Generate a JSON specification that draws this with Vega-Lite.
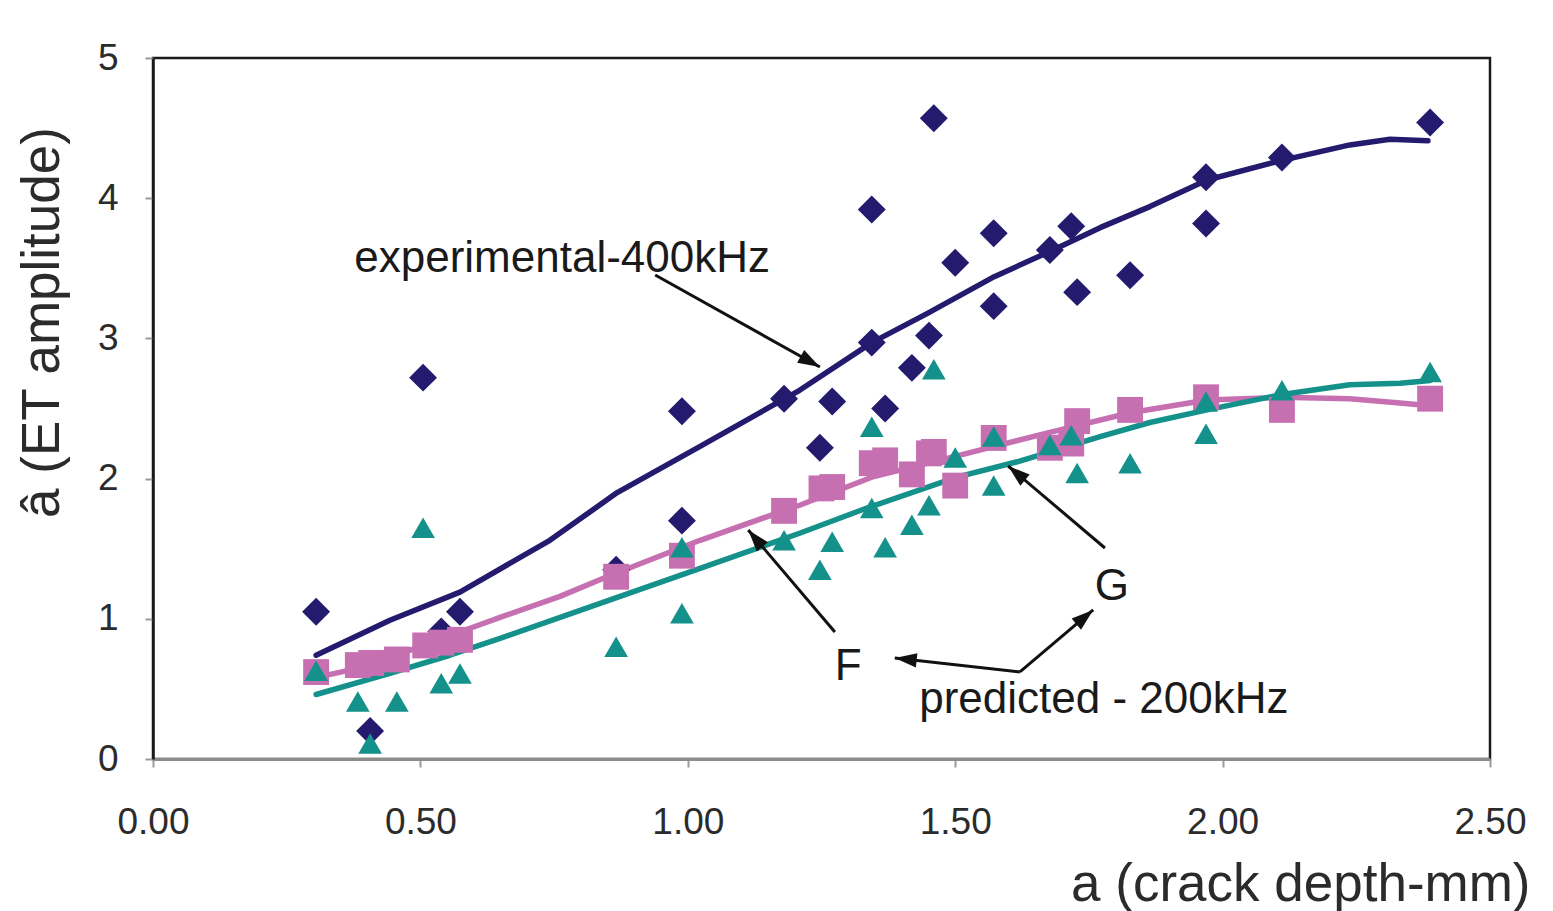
{
  "$schema": "https://vega.github.io/schema/vega-lite/v6.json",
  "width": 1337,
  "height": 701,
  "autosize": {"type": "none"},
  "padding": {"left": 153, "top": 58, "right": 63, "bottom": 152},
  "background": "white",
  "config": {
    "font": "Liberation Sans",
    "view": {"stroke": "#1a1a1a", "strokeWidth": 2.5}
  },
  "datasets": {
    "curves": [
      {"series": "experimental-400kHz", "depth": 0.305, "amp": 0.74},
      {"series": "experimental-400kHz", "depth": 0.443, "amp": 0.99},
      {"series": "experimental-400kHz", "depth": 0.574, "amp": 1.19},
      {"series": "experimental-400kHz", "depth": 0.742, "amp": 1.56},
      {"series": "experimental-400kHz", "depth": 0.868, "amp": 1.90},
      {"series": "experimental-400kHz", "depth": 1.023, "amp": 2.23},
      {"series": "experimental-400kHz", "depth": 1.209, "amp": 2.63},
      {"series": "experimental-400kHz", "depth": 1.344, "amp": 2.97},
      {"series": "experimental-400kHz", "depth": 1.449, "amp": 3.18},
      {"series": "experimental-400kHz", "depth": 1.573, "amp": 3.44},
      {"series": "experimental-400kHz", "depth": 1.677, "amp": 3.62},
      {"series": "experimental-400kHz", "depth": 1.771, "amp": 3.79},
      {"series": "experimental-400kHz", "depth": 1.864, "amp": 3.94},
      {"series": "experimental-400kHz", "depth": 1.971, "amp": 4.13},
      {"series": "experimental-400kHz", "depth": 2.111, "amp": 4.27},
      {"series": "experimental-400kHz", "depth": 2.238, "amp": 4.38},
      {"series": "experimental-400kHz", "depth": 2.313, "amp": 4.42},
      {"series": "experimental-400kHz", "depth": 2.384, "amp": 4.41},
      {"series": "F", "depth": 0.305, "amp": 0.58},
      {"series": "F", "depth": 0.363, "amp": 0.63},
      {"series": "F", "depth": 0.462, "amp": 0.75},
      {"series": "F", "depth": 0.598, "amp": 0.94},
      {"series": "F", "depth": 0.649, "amp": 1.01},
      {"series": "F", "depth": 0.761, "amp": 1.16},
      {"series": "F", "depth": 0.849, "amp": 1.30},
      {"series": "F", "depth": 1.023, "amp": 1.56},
      {"series": "F", "depth": 1.209, "amp": 1.81},
      {"series": "F", "depth": 1.344, "amp": 2.01},
      {"series": "F", "depth": 1.522, "amp": 2.18},
      {"series": "F", "depth": 1.677, "amp": 2.33},
      {"series": "F", "depth": 1.827, "amp": 2.47},
      {"series": "F", "depth": 1.971, "amp": 2.56},
      {"series": "F", "depth": 2.111, "amp": 2.58},
      {"series": "F", "depth": 2.238, "amp": 2.57},
      {"series": "F", "depth": 2.332, "amp": 2.54},
      {"series": "F", "depth": 2.388, "amp": 2.52},
      {"series": "G", "depth": 0.305, "amp": 0.46},
      {"series": "G", "depth": 0.443, "amp": 0.61},
      {"series": "G", "depth": 0.555, "amp": 0.74},
      {"series": "G", "depth": 0.649, "amp": 0.86},
      {"series": "G", "depth": 0.836, "amp": 1.11},
      {"series": "G", "depth": 1.023, "amp": 1.36},
      {"series": "G", "depth": 1.209, "amp": 1.61},
      {"series": "G", "depth": 1.335, "amp": 1.79},
      {"series": "G", "depth": 1.503, "amp": 2.01},
      {"series": "G", "depth": 1.616, "amp": 2.12},
      {"series": "G", "depth": 1.771, "amp": 2.30},
      {"series": "G", "depth": 1.864, "amp": 2.40},
      {"series": "G", "depth": 1.971, "amp": 2.49},
      {"series": "G", "depth": 2.111, "amp": 2.60},
      {"series": "G", "depth": 2.238, "amp": 2.67},
      {"series": "G", "depth": 2.332, "amp": 2.68},
      {"series": "G", "depth": 2.388, "amp": 2.70}
    ],
    "points": [
      {"series": "experimental-400kHz", "depth": 0.305, "amp": 1.05},
      {"series": "experimental-400kHz", "depth": 0.406, "amp": 0.20},
      {"series": "experimental-400kHz", "depth": 0.505, "amp": 2.72},
      {"series": "experimental-400kHz", "depth": 0.539, "amp": 0.91},
      {"series": "experimental-400kHz", "depth": 0.574, "amp": 1.05},
      {"series": "experimental-400kHz", "depth": 0.866, "amp": 1.35},
      {"series": "experimental-400kHz", "depth": 0.989, "amp": 2.48},
      {"series": "experimental-400kHz", "depth": 0.989, "amp": 1.70},
      {"series": "experimental-400kHz", "depth": 1.180, "amp": 2.57},
      {"series": "experimental-400kHz", "depth": 1.247, "amp": 2.22},
      {"series": "experimental-400kHz", "depth": 1.270, "amp": 2.55},
      {"series": "experimental-400kHz", "depth": 1.344, "amp": 3.92},
      {"series": "experimental-400kHz", "depth": 1.344, "amp": 2.97},
      {"series": "experimental-400kHz", "depth": 1.369, "amp": 2.50},
      {"series": "experimental-400kHz", "depth": 1.419, "amp": 2.79},
      {"series": "experimental-400kHz", "depth": 1.451, "amp": 3.02},
      {"series": "experimental-400kHz", "depth": 1.460, "amp": 4.57},
      {"series": "experimental-400kHz", "depth": 1.500, "amp": 3.54},
      {"series": "experimental-400kHz", "depth": 1.572, "amp": 3.75},
      {"series": "experimental-400kHz", "depth": 1.572, "amp": 3.23},
      {"series": "experimental-400kHz", "depth": 1.677, "amp": 3.63},
      {"series": "experimental-400kHz", "depth": 1.717, "amp": 3.80},
      {"series": "experimental-400kHz", "depth": 1.728, "amp": 3.33},
      {"series": "experimental-400kHz", "depth": 1.827, "amp": 3.45},
      {"series": "experimental-400kHz", "depth": 1.969, "amp": 4.15},
      {"series": "experimental-400kHz", "depth": 1.969, "amp": 3.82},
      {"series": "experimental-400kHz", "depth": 2.111, "amp": 4.29},
      {"series": "experimental-400kHz", "depth": 2.388, "amp": 4.54},
      {"series": "F", "depth": 0.305, "amp": 0.62},
      {"series": "F", "depth": 0.383, "amp": 0.67},
      {"series": "F", "depth": 0.408, "amp": 0.685},
      {"series": "F", "depth": 0.456, "amp": 0.71},
      {"series": "F", "depth": 0.509, "amp": 0.81},
      {"series": "F", "depth": 0.539, "amp": 0.83},
      {"series": "F", "depth": 0.574, "amp": 0.85},
      {"series": "F", "depth": 0.866, "amp": 1.30},
      {"series": "F", "depth": 0.989, "amp": 1.45},
      {"series": "F", "depth": 1.180, "amp": 1.77},
      {"series": "F", "depth": 1.250, "amp": 1.93},
      {"series": "F", "depth": 1.270, "amp": 1.94},
      {"series": "F", "depth": 1.344, "amp": 2.11},
      {"series": "F", "depth": 1.369, "amp": 2.13},
      {"series": "F", "depth": 1.419, "amp": 2.03},
      {"series": "F", "depth": 1.451, "amp": 2.18},
      {"series": "F", "depth": 1.460, "amp": 2.19},
      {"series": "F", "depth": 1.500, "amp": 1.95},
      {"series": "F", "depth": 1.572, "amp": 2.29},
      {"series": "F", "depth": 1.677, "amp": 2.22},
      {"series": "F", "depth": 1.717, "amp": 2.25},
      {"series": "F", "depth": 1.728, "amp": 2.41},
      {"series": "F", "depth": 1.827, "amp": 2.49},
      {"series": "F", "depth": 1.969, "amp": 2.58},
      {"series": "F", "depth": 2.111, "amp": 2.49},
      {"series": "F", "depth": 2.388, "amp": 2.57},
      {"series": "G", "depth": 0.305, "amp": 0.63},
      {"series": "G", "depth": 0.383, "amp": 0.41},
      {"series": "G", "depth": 0.406, "amp": 0.11},
      {"series": "G", "depth": 0.456, "amp": 0.41},
      {"series": "G", "depth": 0.505, "amp": 1.65},
      {"series": "G", "depth": 0.539, "amp": 0.54},
      {"series": "G", "depth": 0.574, "amp": 0.61},
      {"series": "G", "depth": 0.866, "amp": 0.80},
      {"series": "G", "depth": 0.989, "amp": 1.04},
      {"series": "G", "depth": 0.989, "amp": 1.51},
      {"series": "G", "depth": 1.180, "amp": 1.56},
      {"series": "G", "depth": 1.247, "amp": 1.35},
      {"series": "G", "depth": 1.270, "amp": 1.55},
      {"series": "G", "depth": 1.344, "amp": 2.37},
      {"series": "G", "depth": 1.344, "amp": 1.79},
      {"series": "G", "depth": 1.369, "amp": 1.51},
      {"series": "G", "depth": 1.419, "amp": 1.67},
      {"series": "G", "depth": 1.451, "amp": 1.81},
      {"series": "G", "depth": 1.460, "amp": 2.78},
      {"series": "G", "depth": 1.500, "amp": 2.15},
      {"series": "G", "depth": 1.572, "amp": 2.30},
      {"series": "G", "depth": 1.572, "amp": 1.95},
      {"series": "G", "depth": 1.677, "amp": 2.24},
      {"series": "G", "depth": 1.717, "amp": 2.31},
      {"series": "G", "depth": 1.728, "amp": 2.04},
      {"series": "G", "depth": 1.827, "amp": 2.11},
      {"series": "G", "depth": 1.969, "amp": 2.32},
      {"series": "G", "depth": 1.969, "amp": 2.55},
      {"series": "G", "depth": 2.111, "amp": 2.63},
      {"series": "G", "depth": 2.388, "amp": 2.76}
    ],
    "labels": [
      {"text": "experimental-400kHz", "depth": 0.765, "amp": 3.474},
      {"text": "F", "depth": 1.300, "amp": 0.563},
      {"text": "G", "depth": 1.793, "amp": 1.134},
      {"text": "predicted - 200kHz", "depth": 1.778, "amp": 0.328}
    ],
    "arrows": [
      {"name": "to experimental", "depth": 1.247, "amp": 2.796, "tailDepth": 0.939, "tailAmp": 3.452, "heading": 119},
      {"name": "F to curve", "depth": 1.113, "amp": 1.633, "tailDepth": 1.275, "tailAmp": 0.906, "heading": 320},
      {"name": "G to curve", "depth": 1.599, "amp": 2.090, "tailDepth": 1.780, "tailAmp": 1.505, "heading": 310},
      {"name": "predicted to F", "depth": 1.387, "amp": 0.720, "tailDepth": 1.621, "tailAmp": 0.621, "heading": 276},
      {"name": "predicted to G", "depth": 1.758, "amp": 1.063, "tailDepth": 1.621, "tailAmp": 0.621, "heading": 50}
    ]
  },
  "encoding": {
    "x": {
      "field": "depth", "type": "quantitative",
      "scale": {"domain": [0, 2.5], "nice": false, "zero": false},
      "axis": {
        "title": "a (crack depth-mm)",
        "values": [0, 0.5, 1, 1.5, 2, 2.5],
        "format": ".2f",
        "grid": false,
        "domainColor": "#8c8c8c", "domainWidth": 3,
        "tickColor": "#9a9a9a", "tickWidth": 2, "tickSize": 8,
        "labelFont": "Liberation Sans", "labelFontSize": 37, "labelColor": "#2b2b2b",
        "labelPadding": 37, "labelFlush": false, "labelOverlap": false,
        "titleFont": "Liberation Sans", "titleFontSize": 53, "titleFontWeight": "normal", "titleColor": "#2b2b2b",
        "titleAlign": "right", "titleBaseline": "alphabetic", "titleX": 1377, "titleY": 141
      }
    },
    "y": {
      "field": "amp", "type": "quantitative",
      "scale": {"domain": [0, 5], "nice": false, "zero": false},
      "axis": {
        "title": "â (ET amplitude)",
        "values": [0, 1, 2, 3, 4, 5],
        "grid": false,
        "domainColor": "#1a1a1a", "domainWidth": 2.5,
        "tickColor": "#9a9a9a", "tickWidth": 2, "tickSize": 8,
        "labelFont": "Liberation Sans", "labelFontSize": 37, "labelColor": "#2b2b2b",
        "labelPadding": 27, "labelFlush": false, "labelOverlap": false,
        "titleFont": "Liberation Sans", "titleFontSize": 53, "titleFontWeight": "normal", "titleColor": "#2b2b2b",
        "titleAngle": -90, "titleAlign": "center", "titleBaseline": "alphabetic", "titleX": -95, "titleY": 264
      }
    }
  },
  "layer": [
    {
      "data": {"name": "curves"},
      "mark": {"type": "line", "strokeWidth": 5.5, "strokeCap": "round", "strokeJoin": "round"},
      "encoding": {
        "color": {
          "field": "series", "type": "nominal",
          "scale": {"domain": ["experimental-400kHz", "F", "G"], "range": ["#241a6e", "#c670b2", "#13918a"]},
          "legend": null
        },
        "detail": {"field": "series"}
      }
    },
    {
      "data": {"name": "points"},
      "mark": {"type": "point", "filled": true, "opacity": 1},
      "encoding": {
        "color": {"field": "series", "type": "nominal", "legend": null},
        "shape": {
          "field": "series", "type": "nominal",
          "scale": {"domain": ["experimental-400kHz", "F", "G"], "range": ["diamond", "square", "triangle-up"]},
          "legend": null
        },
        "size": {
          "field": "series", "type": "nominal",
          "scale": {"domain": ["experimental-400kHz", "F", "G"], "range": [780, 560, 900]},
          "legend": null
        }
      }
    },
    {
      "data": {"name": "arrows"},
      "mark": {"type": "rule", "color": "#111111", "strokeWidth": 3},
      "encoding": {
        "x2": {"field": "tailDepth"},
        "y2": {"field": "tailAmp"}
      }
    },
    {
      "data": {"name": "arrows"},
      "mark": {"type": "point", "filled": true, "opacity": 1, "color": "#111111", "size": 1936,
        "shape": "M0,0L0.33,1L-0.33,1Z"},
      "encoding": {
        "angle": {"field": "heading", "type": "quantitative", "scale": null}
      }
    },
    {
      "data": {"name": "labels"},
      "mark": {"type": "text", "font": "Liberation Sans", "fontSize": 44, "color": "#1a1a1a",
        "align": "center", "baseline": "alphabetic"},
      "encoding": {
        "text": {"field": "text"}
      }
    }
  ]
}
